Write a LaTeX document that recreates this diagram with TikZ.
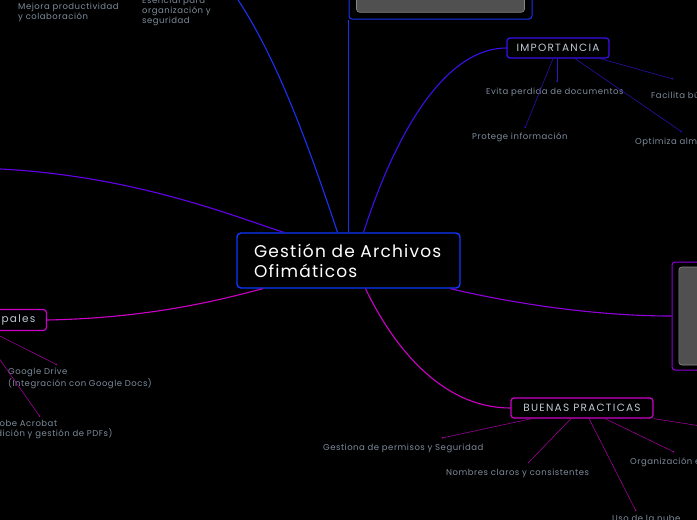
\documentclass[tikz,border=0pt]{standalone}
\usepackage{fontspec}
\setmainfont{Poppins}
\usetikzlibrary{arrows.meta,positioning}

\definecolor{rootblue}{RGB}{15,55,255}
\definecolor{topblue}{RGB}{25,50,245}
\definecolor{impviolet}{RGB}{60,15,235}
\definecolor{twigviolet}{RGB}{55,15,190}
\definecolor{leftviolet}{RGB}{100,0,235}
\definecolor{rightpurple}{RGB}{145,0,220}
\definecolor{bpmagenta}{RGB}{205,0,200}
\definecolor{twigmagenta}{RGB}{175,0,170}
\definecolor{leafgray}{RGB}{125,140,155}
\definecolor{labelgray}{RGB}{190,200,212}
\definecolor{shotfill}{RGB}{80,80,80}
\definecolor{shotedge}{RGB}{135,135,135}

\begin{document}
\begin{tikzpicture}[x=1pt,y=-1pt,
    topic/.style={draw,rounded corners=3pt,line width=1.2pt,fill=black,text=labelgray,
        font=\fontsize{10.5}{12}\selectfont\addfontfeatures{LetterSpace=12},
        minimum height=20pt,inner xsep=0pt},
    leaf/.style={text=leafgray,inner sep=0pt,align=left,
        font=\fontsize{8.5}{10}\selectfont\addfontfeatures{LetterSpace=6}},
    branch/.style={line width=1.1pt},
    twig/.style={line width=0.5pt,-{Circle[length=1.6pt]}},
    frame/.style={draw,rounded corners=3pt,line width=1pt},
    shot/.style={draw=shotedge,fill=shotfill,rounded corners=3pt,line width=0.6pt}]

    % Background
    \fill[black] (0,0) rectangle (697,520);
    \useasboundingbox (0,0) rectangle (697,520);
    \clip (0,0) rectangle (697,520);

    % Coordinates
    \coordinate (defin) at (180,-60);
    \coordinate (leftpar) at (-30,168);
    \coordinate (bpout) at (745,433);

    % Central topic
    \node[draw=rootblue,rounded corners=4pt,line width=1.4pt,
        minimum width=223pt,minimum height=55pt,text width=189pt,align=left,text=white,
        font=\fontsize{17}{20}\selectfont\addfontfeatures{LetterSpace=7}]
        (root) at (348.5,260.5) {Gestión de Archivos\\Ofimáticos};

    % Image frames
    \node[frame,draw=topblue,minimum width=183pt,minimum height=90pt] (topimg) at (440.5,-26) {};
    \node[shot,minimum width=168pt,minimum height=80pt,anchor=south] at ([yshift=7pt]topimg.south) {};
    \node[frame,draw=rightpurple,minimum width=100pt,minimum height=108pt] (rightimg) at (722,316) {};
    \node[shot,minimum width=90pt,minimum height=98pt,anchor=west] at ([xshift=7pt]rightimg.west) {};

    % Topics
    \node[topic,draw=impviolet,minimum width=102pt] (imp) at (558,48) {IMPORTANCIA};
    \node[topic,draw=bpmagenta,minimum width=142pt] (bp) at (582,408) {BUENAS PRACTICAS};
    \node[topic,draw=bpmagenta,minimum height=21pt,inner xsep=11pt,anchor=east] (tools) at (47,320) {Herramientas principales};

    % Branches
    \draw[branch,topblue] ([xshift=-11pt]root.north) .. controls (300,120) and (250,-20) .. (defin);
    \draw[branch,topblue] (root.north) -- (root.north |- topimg.south);
    \draw[branch,impviolet] ([xshift=15pt]root.north) .. controls (400,120) and (450,48) .. (imp.west);
    \draw[branch,leftviolet] ([xshift=-65pt]root.north) .. controls (230,215) and (120,170) .. (leftpar);
    \draw[branch,bpmagenta] (tools.east) .. controls (150,318) and (220,300) .. ([xshift=-86pt]root.south);
    \draw[branch,rightpurple] ([xshift=102pt]root.south) .. controls (520,305) and (600,316) .. (rightimg.west);
    \draw[branch,bpmagenta] ([xshift=17pt]root.south) .. controls (400,360) and (450,408) .. (bp.west);

    % Leaves
    \node[leaf,anchor=north west] (mejora) at (18,3.3) {Mejora productividad\\y colaboración};
    \node[leaf,anchor=north west] (esencial) at (142,-2.7) {Esencial para\\organización y\\seguridad};

    \node[leaf,anchor=base west] (evita) at (486,94) {Evita perdida de documentos};
    \node[leaf,anchor=base west] (protege) at (472,139) {Protege información};
    \node[leaf,anchor=base west] (optimiza) at (635,144) {Optimiza almacenamiento};
    \node[leaf,anchor=base west] (facilita) at (651,98) {Facilita búsqueda};

    \node[leaf,anchor=base west] (gestiona) at (323,450) {Gestiona de permisos y Seguridad};
    \node[leaf,anchor=base west] (nombres) at (446,475) {Nombres claros y consistentes};
    \node[leaf,anchor=base west] (nube) at (612,521) {Uso de la nube};
    \node[leaf,anchor=base west] (carpetas) at (630,464) {Organización en carpetas};

    \node[leaf,anchor=north west] (gdrive) at (8,368.3) {Google Drive\\(Integración con Google Docs)};
    \node[leaf,anchor=north west] (acrobat) at (-13,420.3) {Adobe Acrobat\\(Edición y gestión de PDFs)};

    % Twigs
    \draw[twig,twigviolet] ([xshift=-1pt]imp.south) -- ([shift={(71,-12)}]evita.base west);
    \draw[twig,twigviolet] ([xshift=-5pt]imp.south) -- ([shift={(53,-11)}]protege.base west);
    \draw[twig,twigviolet] ([xshift=17pt]imp.south) -- ([shift={(47,-12)}]optimiza.base west);
    \draw[twig,twigviolet] ([xshift=42pt]imp.south) -- ([shift={(22,-19)}]facilita.base west);

    \draw[twig,twigmagenta] ([xshift=-50pt]bp.south) -- ([shift={(119,-12)}]gestiona.base west);
    \draw[twig,twigmagenta] ([xshift=-11pt]bp.south) -- ([shift={(82,-12)}]nombres.base west);
    \draw[twig,twigmagenta] ([xshift=7pt]bp.south) -- ([shift={(24,-10)}]nube.base west);
    \draw[twig,twigmagenta] ([xshift=23pt]bp.south) -- ([shift={(44,-12)}]carpetas.base west);
    \draw[twig,twigmagenta] (bp.south east) -- (bpout);

    \draw[twig,twigmagenta] ([xshift=-57pt]tools.south east) -- ([shift={(49,-3.5)}]gdrive.north west);
    \draw[twig,twigmagenta] ([xshift=-67pt]tools.south east) -- ([shift={(53,-3.5)}]acrobat.north west);

\end{tikzpicture}
\end{document}
